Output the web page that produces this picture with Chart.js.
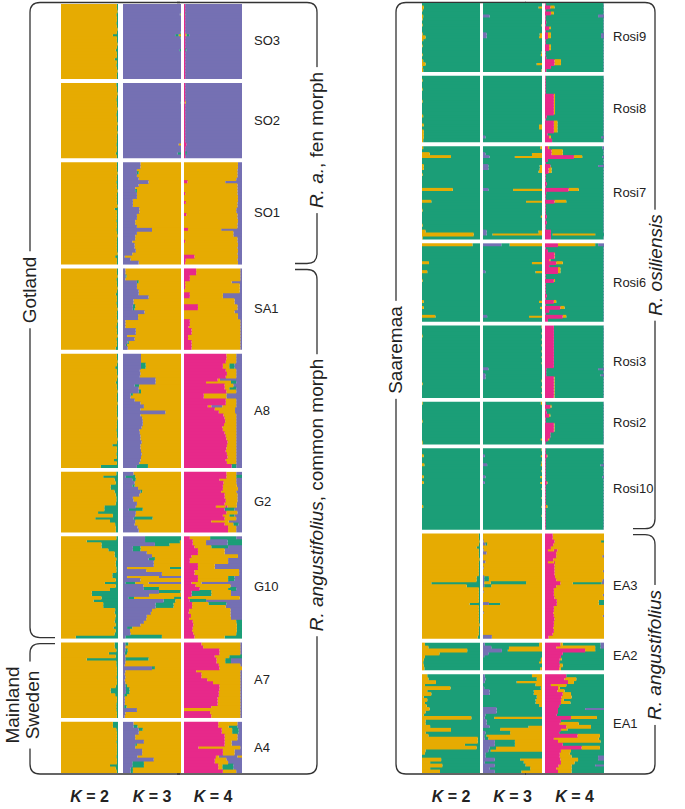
<!DOCTYPE html>
<html><head><meta charset="utf-8">
<script src="https://cdn.jsdelivr.net/npm/chart.js@4.4.1/dist/chart.umd.min.js"></script>
<style>
html,body{margin:0;padding:0;background:#fff;}
#wrap{position:relative;width:685px;height:809px;overflow:hidden;font-family:"Liberation Sans",Arial,sans-serif;color:#222;}
canvas{position:absolute;}
.pl{position:absolute;font-size:13px;line-height:14px;transform:translateY(-50%);white-space:nowrap;}
.kl{position:absolute;top:788px;font-size:16px;font-weight:bold;transform:translateX(-50%);white-space:nowrap;}
.rt{position:absolute;left:0;top:0;font-size:19px;white-space:nowrap;background:#fff;padding:0 5px;line-height:20px;text-align:center;}
svg{position:absolute;left:0;top:0;}
</style></head>
<body><div id="wrap"><svg id="ov" width="685" height="809"></svg></div>
<script>
// ---------- DATA (y = gold, g = green, p = purple, m = magenta; numbers = % of bar; blank = remainder) ----------
const K_LABELS = ["2", "3", "4"];
const LEFT_POPS = ["SO3","SO2","SO1","SA1","A8","G2","G10","A7","A4"];
const RIGHT_POPS = ["Rosi9","Rosi8","Rosi7","Rosi6","Rosi3","Rosi2","Rosi10","EA3","EA2","EA1"];

const SO3_K2 = ["y g2","y g2","y g1","y g3","y g2","y g2","y g3","y g2","y g1","y g2","y g9","y g2","y g2","y g1","y g2","y g4","y g2","y g2","y g6","y g2","y g3","y g2","y g1","y g2","y g2"];
const SO3_K3 = ["p","p","p","p g1 y1","p","p","p","p","p","p g1","p90 g6 y4","p g1","p","p","p","p g3","p","p","p","p","p","p","p","p","p"];
const SO3_K4 = ["m2 p","m2 p","m2 p","m2 g1 p","m2 p","m2 p","m2 p","m2 p","m2 p","m2 p","m2 y2 g5 p","m2 p","m2 p","m2 p","m2 p","m2 g2 p","m2 p","m2 p","m2 p","m2 p","m2 p","m2 p","m2 p","m2 p","m2 p"];

const SO2_K2 = ["y g3","y g2","y g2","y g1","y g2","y g3","y g2","y g2","y g1","y g2","y g3","y g2","y g2","y g1","y g2","y g2","y g1","y g2","y g2","y g2","y g3","y g2","y g2","y g4","y g2"];
const SO2_K3 = ["p","p","p","p","p","p","p g1","p","p","p","p","p","p","p","p","p","p","p","p","p","p96 y4","p","p","p94 g6","p"];
const SO2_K4 = ["m2 p","m2 p","m2 p","m2 p","m2 p","m2 p","m1 y2 p","m2 p","m2 p","m2 p","m2 p","m2 p","m2 p","m2 p","m2 p","m2 p","m2 p","m2 p","m2 p","m2 p","m4 p","m2 p","m2 p","m2 g3 p","m2 p"];

const SO1_K2 = ["y g2","y g2","y g2","y g1","y g2","y g2","y g3","y g2","y g2","y g1","y g2","y g2","y g2","y g2","y g1","y g6","y g2","y g2","y g2","y g3","y g2","y g2","y g3","y g2","y g1","y g2","y g2","y g2","y g2","y g2","y g1","y g5","y g2","y g2"];
const SO1_K3 = ["p30 y","p30 y","p24 y","p24 g3 y","p24 y","p27 y","p44 y","p27 y","p21 y","p21 g3 y","p24 y","p24 y","p17 y","p17 y","p17 y","p28 y","p28 y","p24 y","p24 y","p21 y","p21 y","p24 y","p50 y","p24 y","p21 y","p21 y","p16 y","p20 y","p20 y","p22 y","p16 y","p3 y","p13 y","p27 y"];
const SO1_K4 = ["y p7","y p7","y p8","y p8","y p8","y p10","m6 y65 p","y p8","y p8","y p8","m2 y p8","y p7","y p7","m3 y p8","y p8","y p10","y p10","m4 y p8","y p8","y p7","y p8","y p8","m7 y57 p","y p15","y p15","y p8","m2 y p8","y p7","y p8","y p7","y p8","m18 y p7","m3 y p8","m2 y p7"];

const SA1_K2 = ["y g2","y g2","y g1","y g3","y g2","y g2","y g1","y g2","y g4","y g2","y g2","y g3","y g2","y g1","y g2","y g2","y g2","y g1","y g2","y g3","y g2","y g2","y g1","y g3","y g2","y g2","y g4"];
const SA1_K3 = ["p4 y","p4 y","p4 g2 y","p4 y","p24 g3 y","p24 y","p24 y","p27 y","p27 y","p44 y","p18 y","p18 y","p17 g4 y","p17 g3 y","p37 y","p26 y","p26 y","p4 y","p4 y","p4 y","p22 y","p22 y","p7 y","p20 y","p8 g2 y","p5 g2 y","p8 y"];
const SA1_K4 = ["m21 y p3","m21 y p3","m10 y p3","m10 y p3","m2 y p18","m2 y p4","m2 y p4","y p4","m10 y p33","m10 y p33","y p13","y p13","m24 y p8","m24 y p8","y p13","y p7","y p7","m10 y p3","m10 y p3","m8 y p3","m13 y p3","m13 y p3","m7 y p3","m7 y p3","m13 y p3","m13 y p3","m13 y p3"];

const A8_K2 = ["y g2","y g2","y g1","y g2","y g5","y g2","y g2","y g1","y g2","y g4","y g2","y g2","y g1","y g2","y g2","y g2","y g1","y g2","y g2","y g2","y g2","y g1","y g2","y g2","y g2","y g3","y g2","y g2","y g1","y g2","y g10","y g2","y g2","y g3","y g2","y g7","y g2","y g30"];
const A8_K3 = ["p31 y","p31 y","p31 y","p31 g8 y","p31 g8 y","p29 y","p30 y","p29 y","p56 y","p56 y","p20 g8 y","p27 y","p27 g4 y","p13 g4 y","p13 y","p20 y","p30 y","p36 y","p30 y","p73 y","p30 y","p33 y","p34 y","p34 y","p32 y","p28 y","p29 y","p30 y","p30 y","p32 y","p30 y","p30 y","p31 y","p32 y","p31 y","p30 y","p28 y","p24 g19 y"];
const A8_K4 = ["m73 y17 p","m73 y17 p","m72 y18 p","m67 y11 g9 p","m67 y11 g9 p","m72 y18 p","m74 y16 p","m72 y18 p","m58 y4 p","m38 y43 g9 p","m70 y15 p","m70 y8 g12 p","m73 y17 p","m34 y39 p","m34 y39 p","m72 y18 p","m72 y18 p","m41 y6 p19 y24 p10","m53 y35 p","m60 y28 p","m68 y22 p","m70 y20 p","m71 y19 p","m69 y21 p","m66 y24 p","m67 y23 p","m70 y20 p","m72 y18 p","m73 y17 p","m75 y15 p","m74 y16 p","m73 y17 p","m72 y18 p","m74 y16 p","m75 y15 p","m72 y18 p","m74 y16 p","m82 g8 p"];

const G2_K2 = ["y g3","y74 g","y94 g","y96 g","y87 g","y87 g","y94 g","y96 g","y97 g","y97 g","y96 g","y76 g","y76 g","y65 g","y91 g","y60 g","y86 g","y95 g","y96 g","y96 g"];
const G2_K3 = ["p18 y","p4 g17 y","p16 g6 y","p20 y","p16 g4 y","p26 y","p30 g3 y","p28 y","p17 y","p18 y","p24 y","p22 y","p10 g24 y","p22 y","p21 y","p18 g33 y","p21 y","p20 y","p25 y","p27 y"];
const G2_K4 = ["m73 y17 p","m73 y17 g","m61 y29 p","m68 y22 p","m67 y24 p","m67 y26 p","m64 y26 p","m70 y22 p","m70 y22 p","m72 y20 p","m70 y21 p","m55 y16 m4 y16 p9","m70 g17 p","m73 y19 p","m67 y11 g9 p","m70 y20 p","m47 y30 p","m70 y15 g9 p","m76 y14 p","m76 y14 p"];

const G10_K2 = ["y g3","y45 g","y71 g","y71 g","y83 g","y94 g","y94 g","y97 g","y96 g","y96 g","y97 g","y97 g","y90 g","y90 g","y96 g","y77 g","y96 g","y86 g","y54 g","y54 g","y71 g","y57 g","y74 g","y74 g","y95 g","y94 g","y96 g","y95 g","y94 g","y96 g","y92 g","y96 g","y94 g","y26 g"];
const G10_K3 = ["p38 g","p38 g60 y","p55 g25 y","p17 g13 y","p17 g13 y","p41 y","p50 y","p44 g11 y","p53 y","p53 y","p7 y74 g","p40 y","p67 y","p7 y55 p","p30 y","p4 g17 y23 p","p35 y","p36 g26 y","p62 g37 y","p45 y","p9 g10 y69 g","p70 g20 y","p56 g31 y","p56 g31 y","p50 y","p48 y","p41 y","p40 y","p36 y","p30 y","p7 g9 y","p12 y","p13 y","p4 g63 y"];
const G10_K4 = ["m10 y35 g45 p","m15 y23 p37 g","m15 y23 p37 g","m18 y29 g29 p","m24 y46 p","m24 y46 p","m13 y80 p","m10 y66 p","m10 y66 p","m24 y29 p","m24 y29 p","m18 y77 p","m18 y77 p","m24 y52 g11 p","m24 y52 g11 p","m13 y17 p","m20 y60 p","m27 y49 g14 p","m13 g34 y34 p","m13 g34 y34 p","m7 y89 p","m10 g28 p","m14 y28 g31 p","m14 y58 p","m9 y71 p","m8 y72 p","m12 y68 p","m9 y72 p","m15 y75 g","m16 y75 g","m15 y76 g","m14 y77 g","m16 y74 g","m18 y52 g"];

const A7_K2 = ["y94 g","y94 g","y97 g","y84 g","y96 g","y45 g","y97 g","y97 g","y98 g","y98 g","y98 g","y97 g","y98 g","y98 g","y96 g","y87 g","y87 g","y95 g","y98 g","y98 g","y97 g","y97 g","y97 g","y98 g","y98 g"];
const A7_K3 = ["p4 g5 y","p4 y","p4 g4 y","p3 g4 y","p4 y","p4 g40 y","p4 y","p3 y","p50 g5 y","p4 y","p3 y","p4 y","p3 y","p4 y","p4 g3 y","p5 g6 y","p5 g6 y","p2 g5 y","p3 y","p3 y","p3 y","p2 g4 y","p24 y","p4 y","p3 y"];
const A7_K4 = ["m30 y p3","m33 y p3","m61 y p3","m61 y p3","m53 y25 g","m56 y15 g10 p","m56 y15 g10 p","m60 y p3","m61 y","m21 y p3","m30 y p3","m30 y p3","m40 y p3","m50 y p3","m61 y p3","m61 y p3","m60 y p3","m60 y p3","m58 y p3","m58 y p3","m58 y p3","m47 y p3","y p3","m45 y p3","m47 y p3"];

const A4_K2 = ["y91 g","y91 g","y97 g","y g2","y g2","y g2","y g3","y g2","y g2","y g2","y g2","y g3","y g2","y g2","y86 g","y96 g","y g2"];
const A4_K3 = ["p18 y","p18 g7 y","p27 g7 y","p27 y","p21 y","p21 y","p36 y","p21 g3 y","p21 y","p33 y","p33 y","p25 y","p53 y","p16 g20 y","p16 g20 y","p13 g4 y","p13 g4 y"];
const A4_K4 = ["m59 y33 p","m59 y18 g15 p","m65 y18 g11 p","m65 y18 g11 p","m70 y22 p","m70 y22 p","m70 y12 p","m70 y12 p","m25 y p3","m67 y20 p","m67 y20 p","m55 y5 p32 y","m53 y20 p","m53 y23 p","m59 y7 g19 p","m59 y7 g19 p","m67 y23 p"];

const Rosi9_K2 = ["g","y3 g","y1 g","g","y2 g","y1 g","g","y1 g","g","g","y1 g","y6 g","y2 g","g","y1 g","g","g","y1 g","g","y2 g","y6 g","y1 g","y2 g"];
const Rosi9_K3 = ["g","g94 y","g","g","p11 g","g","g","g y1","g","g","p6 g y4","p6 g y5","g","g","g","g","g y1","g y2","g","g","g y9","g","g y1"];
const Rosi9_K4 = ["m1 g p1","m9 y7 g p1","m1 g p1","m10 y5 g p1","m1 g p10","m1 g p1","m2 g p1","m1 g p1","m7 y3 g p1","m1 g p1","m5 y5 g p5","m5 y5 g p5","m1 g p1","m1 g p1","m7 y3 g p1","m7 y3 g p1","m1 g p1","m1 g p1","m2 g p1","m16 y11 g p1","m16 y11 g p1","m10 g p1","m2 g p1"];

const Rosi8_K2 = ["g","y1 g","g","g","y1 g","g","g","g","y1 g","g","g","g","g","y2 g","g","g","y3 g","g","y3 g","y3 g","y3 g","y2 g"];
const Rosi8_K3 = ["g","g","g","g","g","g","g","g","g","g","g","g","g","g","g","g","g y5","g y5","g","g","p4 g","g"];
const Rosi8_K4 = ["m1 g p1","m1 g p1","m1 g p1","m1 g p1","m1 g p1","m1 g p1","m15 y2 g p1","m15 y2 g p1","m15 y2 g p1","m15 y2 g p1","m15 y2 g p1","m15 y2 g p1","m15 y2 g p1","m3 g p1","m1 g p1","m15 y6 g p1","m15 y6 g p1","m15 y6 g p1","m15 y6 g p1","m4 g p1","m7 y3 g p5","m12 g p1"];

const Rosi7_K2 = ["y2 g","g","y13 g","y50 g","g","g","y3 g","y3 g","g","y1 g","g","g","g","g","y53 g","g","g","g","y16 g","g","g","y1 g","g","g","g","g","y1 g","g","y6 g","y89 g","y1 g"];
const Rosi7_K3 = ["g y3","g","p4 g79 y","p11 g43 y","g","g","p9 g y4","p9 g y4","g y6","g","g","g","g","g","p9 g42 y","g","g","g","g73 y","g","g","g","g","g y2","g","g","g","g","p6 g y6","p6 g10 y","g"];
const Rosi7_K4 = ["m5 y2 g p3","m11 y19 g p1","m11 y19 g p1","m49 y14 g p3","m5 g p1","m1 g p1","m9 g p10","m6 y5 g p1","m6 y5 g p1","m1 g p1","m1 g p1","m1 g p1","m3 g p1","m1 g p1","m40 y17 g p1","m2 g p1","m1 g p1","m1 g p1","m16 y20 g p1","m1 g p1","m1 g p1","m1 g p1","m1 g p1","m3 g p1","m1 g p1","m3 g p1","m1 g p1","m1 g p1","m10 g p1","m10 g3 y72 g","m10 g p1"];

const Rosi6_K2 = ["y87 g","g","g","g","g","g","y12 g","g","g","y9 g","g","g","y1 g","g","g","g","g","g","g","y3 g","g","y3 g","g","g","y23 g","g"];
const Rosi6_K3 = ["p31 g14 y","g","g","g","g","g","g83 y","g","g","p4 g85 y","g","g","g","g","g","g","g","g","g","g y5","g","g y3","g","g","p7 g71 y","g"];
const Rosi6_K4 = ["m22 y63 g5 p","m1 g p1","m5 g p1","m16 y1 g p1","m16 y1 g p1","m7 y2 g p1","m19 y11 g p1","m7 g p1","m22 y4 g p1","m22 y4 g p1","m1 g p1","m1 g p1","m15 y2 g p1","m1 g p1","m1 g p1","m1 g p1","m1 g p1","m3 g p1","m1 g p1","m15 y4 g p1","m1 g p1","m26 y7 g p1","m7 g p1","m1 g p1","m30 y6 g p1","m5 g p1"];

const Rosi3_K2 = ["g","g","g","y1 g","g","g","g","g","g","g","g","g","g","g","g","g","g","g","g","y1 g","g","g","g","g"];
const Rosi3_K3 = ["g y1","g","g y1","g","g y1","g","g y1","g","g y1","g","g y1","g","g y1","g","p9 g","g","p4 g","p4 g","g y1","g","g y1","g","g y1","g"];
const Rosi3_K4 = ["m15 g p1","m15 g p1","m15 g p1","m15 g p1","m15 g p1","m15 g p1","m15 g p1","m15 g p1","m15 g p1","m15 g p1","m15 g p1","m15 g p1","m15 g p1","m15 g p1","m2 g p10","m2 g p1","m2 g p6","m15 y1 g p1","m15 y1 g p1","m15 y1 g p1","m15 y1 g p1","m15 y1 g p1","m15 y1 g p1","m15 y1 g p1"];

const Rosi2_K2 = ["y1 g","g","g","g","g","g","y1 g","g","g","g","g","g","g","y1 g"];
const Rosi2_K3 = ["g y2","g","g","g","g","g","g","g","g","g","g","g","g y2","g"];
const Rosi2_K4 = ["m1 g p1","m9 y2 g p1","m1 g p1","m3 g p1","m7 y2 g p1","m1 g p1","m1 g p1","m15 y1 g p1","m15 y1 g p1","m15 y1 g p1","m9 g p1","m9 g p1","m5 y2 g p1","m1 g p1"];

const Rosi10_K2 = ["g","g","y3 g","g","g","y4 g","g","g","g","y3 g","g","y3 g","g","g","g","g","g","g","g","y2 g","g","g","g","g","g","g","g"];
const Rosi10_K3 = ["g y1","g","p3 g y2","g","g y1","p7 g y2","g","g y1","g","p4 g y3","g","p3 g y3","g","g y1","g","g","g y1","g","g","g y1","g","g","g y1","g","g","g","g"];
const Rosi10_K4 = ["m1 g p1","m1 g p1","m3 y1 g p1","m1 g p1","m1 g p1","m1 g p6","m1 g p1","m1 g p1","m1 g p1","m1 g p3","m1 g p1","m3 y1 g p1","m1 g p1","m1 g p1","m1 g p1","m1 g p1","m1 g p1","m1 g p1","m1 g p1","m1 y3 g p1","m1 g p1","m1 g p1","m1 g p1","m1 g p1","m1 g p1","m1 g p1","m1 g p1"];

const EA3_K2 = ["y g2","y g2","y g1","y g2","y g6","y g2","y g2","y g2","y g1","y g2","y g2","y g2","y g2","y g2","y g6","y94 g","y16 g","y77 g","y g2","y g2","y g2","y g2","y g2","y82 g","y g2","y g2","y g2","y g2","y g2","y g2","y g1","y g2","y g2","y g2","y96 g"];
const EA3_K3 = ["y","y","p1 y","p4 g3 y","y","p1 y","p6 y","y","y","p4 y","y","p1 y","y","y","p2 g8 y","p2 g8 y","p2 y11 g60 y","p2 g12 y","y","p1 y","y","y","y","p10 g19 y","y","y","p1 y","y","y","y","y","y","y","y","p15 y"];
const EA3_K4 = ["m13 y","m13 y","m16 y g5","m14 y","m10 y","m5 y10 m6 y","m19 y","m19 y p3","m14 y","m5 y10 m2 y","m16 y","m16 y","m16 y p2","m16 y","m17 y","m19 y p3","m26 y21 g49 p","m19 y","m15 y","m15 y","m15 y p2","m16 y","m20 y g9","m20 y g9","m15 y","m15 y","m14 y","m15 y p2","m16 y","m15 y","m15 y","m14 y","m15 y","m13 y","m6 y"];

const EA2_K2 = ["y5 g","y11 g","y78 g","y30 g","y5 g","y3 g","y2 g","y3 g","y4 g"];
const EA2_K3 = ["p3 g y5","p14 g30 y","p32 g10 y","p9 g","p2 g","g98 y2","g95 y5","g","g97 y3"];
const EA2_K4 = ["m26 y4 g64 p","m19 y66 g9 p","m68 y17 g","m30 g","m27 g","m25 y3 g","m24 g","m25 y5 g","m24 y3 g"];

const EA1_K2 = ["y9 g","y11 g","y24 g","y5 g","y49 g","y9 g","y16 g","y3 g","y9 g","y5 g","y8 g","y13 g","y6 g","y3 g","y85 g","y6 g","y6 g","y14 g","y50 g","y6 g","y11 g","y96 g","y96 g","y74 g","y94 g","y6 g","y5 g","g","y33 g","y14 g","y35 g","y14 g","y31 g"];
const EA1_K3 = ["p3 g80 y","p4 g87 y","p3 g54 y","g89 y","p2 g96 y","p11 g75 y","p11 g75 y","g91 y","g89 y","g89 y","g95 y","p23 g","p23 g","p4 g","p3 g16 y","p6 g","p6 g","p11 g66 y","g29 y","p4 g42 y","p2 g4 y","p3 g6 y","p20 g34 y","p20 g34 y","p11 g11 y","p9 g4 y","p4 g","p4 g","p20 g43 y","p3 g66 y","p20 g52 y","p11 g69 y","p20 g45 y"];
const EA1_K4 = ["m36 g","m33 y20 g","m39 y10 g","m10 y26 g","m22 y3 g","m21 y12 g","m30 y14 g","m28 y17 g","m27 y5 g","m27 y16 g","m24 g","m22 g46 p","m22 g","m20 g","m44 y44 g","m27 g","m25 y32 g","m36 y42 g","m27 y11 g","m24 g","m55 y38 g","m15 y76 g","m22 y72 g","m30 g","m62 y31 g","m27 y17 g","m25 y17 g","m25 y20 g45 p","m26 y30 g p10","m27 y23 g","m23 y22 g p15","m19 y26 g","m22 y23 g"];

// ---------- tables built from the arrays ----------
const CLUSTER_COLORS = { y: "#E6AB02", g: "#1B9E77", p: "#7570B3", m: "#E7298A" };
const LEFT_TABLE = [
  [SO3_K2, SO3_K3, SO3_K4], [SO2_K2, SO2_K3, SO2_K4], [SO1_K2, SO1_K3, SO1_K4],
  [SA1_K2, SA1_K3, SA1_K4], [A8_K2, A8_K3, A8_K4], [G2_K2, G2_K3, G2_K4],
  [G10_K2, G10_K3, G10_K4], [A7_K2, A7_K3, A7_K4], [A4_K2, A4_K3, A4_K4]
];
const RIGHT_TABLE = [
  [Rosi9_K2, Rosi9_K3, Rosi9_K4], [Rosi8_K2, Rosi8_K3, Rosi8_K4], [Rosi7_K2, Rosi7_K3, Rosi7_K4],
  [Rosi6_K2, Rosi6_K3, Rosi6_K4], [Rosi3_K2, Rosi3_K3, Rosi3_K4], [Rosi2_K2, Rosi2_K3, Rosi2_K4],
  [Rosi10_K2, Rosi10_K3, Rosi10_K4], [EA3_K2, EA3_K3, EA3_K4], [EA2_K2, EA2_K3, EA2_K4],
  [EA1_K2, EA1_K3, EA1_K4]
];

const GAP = 1.6; // white separator between populations, in row units

function parseRow(s) {
  const segs = s.trim().split(/\s+/).map(t => [t[0], t.length > 1 ? parseFloat(t.slice(1)) : null]);
  const sum = segs.reduce((a, b) => a + (b[1] || 0), 0);
  segs.forEach(sg => { if (sg[1] === null) sg[1] = Math.max(0, 100 - sum); });
  return segs;
}

const wrap = document.getElementById('wrap');

function buildColumn(table, k, left, top, width, height) {
  const canvas = document.createElement('canvas');
  canvas.width = width; canvas.height = height;
  canvas.style.left = left + 'px'; canvas.style.top = top + 'px';
  wrap.appendChild(canvas);
  const rows = [], pos = [], bounds = [];
  let off = 0;
  table.forEach(pop => {
    const arr = pop[k];
    bounds.push([off, off + arr.length]);
    arr.forEach((s, i) => { rows.push(parseRow(s)); pos.push(off + i + 0.5); });
    off += arr.length + GAP;
  });
  const total = off - GAP;
  const nSeg = Math.max(...rows.map(r => r.length));
  const datasets = [];
  for (let j = 0; j < nSeg; j++) {
    datasets.push({
      data: rows.map((r, i) => ({ x: r[j] ? r[j][1] : 0, y: pos[i] })),
      backgroundColor: rows.map(r => r[j] ? CLUSTER_COLORS[r[j][0]] : 'rgba(0,0,0,0)'),
      borderWidth: 0,
      barPercentage: 1.3,
      categoryPercentage: 1,
      inflateAmount: 0
    });
  }
  const chart = new Chart(canvas, {
    type: 'bar',
    data: { datasets },
    options: {
      indexAxis: 'y', responsive: false, animation: false, events: [],
      layout: { padding: 0 },
      plugins: { legend: { display: false }, tooltip: { enabled: false } },
      scales: {
        x: { type: 'linear', min: 0, max: 100, stacked: true, display: false },
        y: { type: 'linear', min: 0, max: total, reverse: true, stacked: true, display: false, offset: false, ticks: { stepSize: 100 } }
      }
    }
  });
  return { chart, bounds, top };
}

// panel geometry
const L_TOP = 4, L_H = 769, R_TOP = 3, R_H = 770;
const L_COLS = [[61, 57], [123, 58], [184, 58]];
const R_COLS = [[422, 58], [483, 59], [545, 59]];

let lRef, rRef;
L_COLS.forEach((c, k) => { const r = buildColumn(LEFT_TABLE, k, c[0], L_TOP, c[1], L_H); if (k === 2) lRef = r; });
R_COLS.forEach((c, k) => { const r = buildColumn(RIGHT_TABLE, k, c[0], R_TOP, c[1], R_H); if (k === 2) rRef = r; });

function pix(ref, v) { return ref.top + ref.chart.scales.y.getPixelForValue(v); }

function addDiv(cls, html, style) {
  const d = document.createElement('div'); d.className = cls; d.innerHTML = html;
  Object.assign(d.style, style); wrap.appendChild(d); return d;
}

// population labels
LEFT_POPS.forEach((n, i) => { const b = lRef.bounds[i]; addDiv('pl', n, { left: '254px', top: pix(lRef, (b[0] + b[1]) / 2) + 'px' }); });
RIGHT_POPS.forEach((n, i) => { const b = rRef.bounds[i]; addDiv('pl', n, { left: '613px', top: pix(rRef, (b[0] + b[1]) / 2) + 'px' }); });

// K labels
L_COLS.concat(R_COLS).forEach((c, i) => {
  addDiv('kl', '<i>K</i> = ' + K_LABELS[i % 3], { left: (c[0] + c[1] / 2) + 'px' });
});

// brackets
const svg = document.getElementById('ov');
function path(d) {
  const p = document.createElementNS('http://www.w3.org/2000/svg', 'path');
  p.setAttribute('d', d); p.setAttribute('fill', 'none'); p.setAttribute('stroke', '#333'); p.setAttribute('stroke-width', '1.3');
  svg.appendChild(p);
}
function bracket(x, y1, y2, dir, L1, L2, r) {
  path(`M ${x + dir * L1} ${y1} H ${x + dir * r} Q ${x} ${y1} ${x} ${y1 + r} V ${y2 - r} Q ${x} ${y2} ${x + dir * r} ${y2} H ${x + dir * L2}`);
}
function boundary(ref, i) { return pix(ref, ref.bounds[i][1] + GAP / 2); }

const FT = 2.5, FB = 774;
// left panel
const lb = boundary(lRef, 6), lr = boundary(lRef, 2);
bracket(30, FT, lb - 3, 1, 150, 25, 10);
bracket(30, lb + 3, FB, 1, 25, 150, 10);
bracket(317, FT, lr - 3, -1, 140, 22, 10);
bracket(317, lr + 3, FB, -1, 22, 140, 10);
// right panel
const rb = boundary(rRef, 6);
bracket(396, FT, FB, 1, 130, 130, 10);
bracket(655, FT, rb - 3, -1, 130, 22, 10);
bracket(655, rb + 3, FB, -1, 22, 130, 10);

function rotText(html, cx, cy) {
  const d = addDiv('rt', html, {});
  const w = d.offsetWidth, h = d.offsetHeight;
  d.style.left = (cx - w / 2) + 'px'; d.style.top = (cy - h / 2) + 'px';
  d.style.transform = 'rotate(-90deg)';
}
rotText('Gotland', 30, 290);
rotText('Mainland<br>Sweden', 22, 705);
rotText('<i>R. a.</i>, fen morph', 317, 140);
rotText('<i>R. angustifolius</i>, common morph', 317, 495);
rotText('Saaremaa', 396, 350);
rotText('<i>R. osiliensis</i>', 655, 265);
rotText('<i>R. angustifolius</i>', 655, 655);
</script>
</body></html>
